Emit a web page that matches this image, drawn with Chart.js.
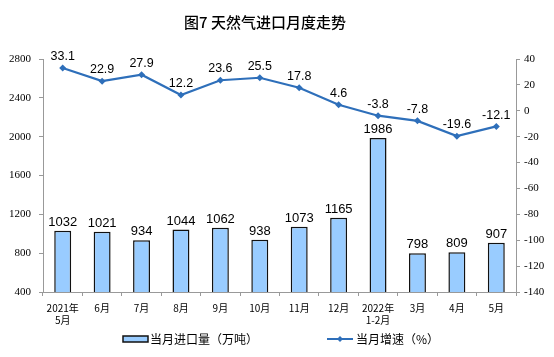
<!DOCTYPE html>
<html><head><meta charset="utf-8">
<script src="https://cdn.jsdelivr.net/npm/chart.js@4"></script>
<style>html,body{margin:0;padding:0;background:#fff}#w{width:554px;height:357px}</style>
</head><body><div id="w"><canvas id="c"></canvas></div>
<script>
const categories = [['2021年','5月'],'6月','7月','8月','9月','10月','11月','12月',['2022年','1-2月'],'3月','4月','5月'];
const importVolume = [1032,1021,934,1044,1062,938,1073,1165,1986,798,809,907];
const growthRate = [33.1,22.9,27.9,12.2,23.6,25.5,17.8,4.6,-3.8,-7.8,-19.6,-12.1];
const leftTicks = {min:400,max:2800,step:400};
const rightTicks = {min:-140,max:40,step:20};
const titleText = '图7 天然气进口月度走势';
const legendBar = '当月进口量（万吨）';
const legendLine = '当月增速（%）';

const LINE = '#2e6fba';
const cjk = '"Noto Sans CJK SC", "Liberation Sans", sans-serif';

const labelPlugin = {
  id:'labels',
  afterDatasetsDraw(chart){
    const ctx = chart.ctx;
    ctx.save();
    ctx.fillStyle = '#000';
    ctx.textAlign = 'center';
    ctx.textBaseline = 'bottom';
    ctx.font = '13px "Liberation Sans", Arial, sans-serif';
    chart.getDatasetMeta(0).data.forEach((el,i)=>{
      ctx.fillText(String(importVolume[i]), el.x, el.y-2);
    });
    ctx.font = '12.5px "Liberation Sans", Arial, sans-serif';
    chart.getDatasetMeta(1).data.forEach((el,i)=>{
      ctx.fillText(growthRate[i].toFixed(1), el.x, el.y-5);
    });
    // title
    ctx.font = '500 15px ' + cjk;
    ctx.textBaseline = 'middle';
    ctx.fillText(titleText, 265, 22);
    // legend
    const ly = 339;
    ctx.fillStyle = '#99ccff';
    ctx.strokeStyle = '#111';
    ctx.lineWidth = 1.5;
    ctx.fillRect(123,336,25,6);
    ctx.strokeRect(123,336,25,6);
    ctx.fillStyle = '#000';
    ctx.textAlign = 'left';
    ctx.textBaseline = 'middle';
    ctx.font = '12px ' + cjk;
    ctx.fillText(legendBar, 150, ly);
    ctx.strokeStyle = LINE;
    ctx.lineWidth = 2;
    ctx.beginPath(); ctx.moveTo(327,ly); ctx.lineTo(353,ly); ctx.stroke();
    ctx.fillStyle = LINE;
    ctx.beginPath(); ctx.moveTo(340,ly-3); ctx.lineTo(343,ly); ctx.lineTo(340,ly+3); ctx.lineTo(337,ly); ctx.closePath(); ctx.fill();
    ctx.fillStyle = '#000';
    ctx.fillText(legendLine, 356, ly);
    ctx.restore();
  }
};

new Chart(document.getElementById('c'), {
  data:{
    labels: categories,
    datasets:[
      {type:'bar', data: importVolume, yAxisID:'y', backgroundColor:'#99ccff', borderColor:'#111', borderWidth:1.5, barPercentage:0.43, categoryPercentage:1, order:2},
      {type:'line', data: growthRate, yAxisID:'y1', borderColor:LINE, backgroundColor:LINE, borderWidth:2.2, pointStyle:'rectRot', pointRadius:3.5, pointBorderWidth:0, tension:0, clip:false, order:1}
    ]
  },
  options:{
    responsive:true, maintainAspectRatio:false, animation:false,
    layout:{padding:{top:59,bottom:30,left:0,right:0}},
    plugins:{
      legend:{display:false}, tooltip:{enabled:false}, title:{display:false}
    },
    scales:{
      x:{
        offset:true,
        grid:{display:true, drawOnChartArea:false, offset:true, tickLength:4, color:'#999'},
        border:{color:'#999'},
        ticks:{color:'#000', font:{family:cjk, size:10}, padding:6, maxRotation:0, autoSkip:false},
        afterFit(s){ s.height = 35; }
      },
      y:{
        position:'left', min:leftTicks.min, max:leftTicks.max,
        ticks:{stepSize:leftTicks.step, color:'#000', font:{family:'"Liberation Serif", serif', size:11}, padding:8, callback:v=>String(v)},
        grid:{drawOnChartArea:false, tickLength:4, color:'#999'},
        border:{color:'#999'},
        afterFit(s){ s.width = 43; }
      },
      y1:{
        position:'right', min:rightTicks.min, max:rightTicks.max,
        ticks:{stepSize:rightTicks.step, color:'#000', font:{family:'"Liberation Serif", serif', size:11}, padding:4, callback:v=>String(v)},
        grid:{drawOnChartArea:false, tickLength:4, color:'#999'},
        border:{color:'#999'},
        afterFit(s){ s.width = 38; }
      }
    }
  },
  plugins:[labelPlugin]
});
</script></body></html>
